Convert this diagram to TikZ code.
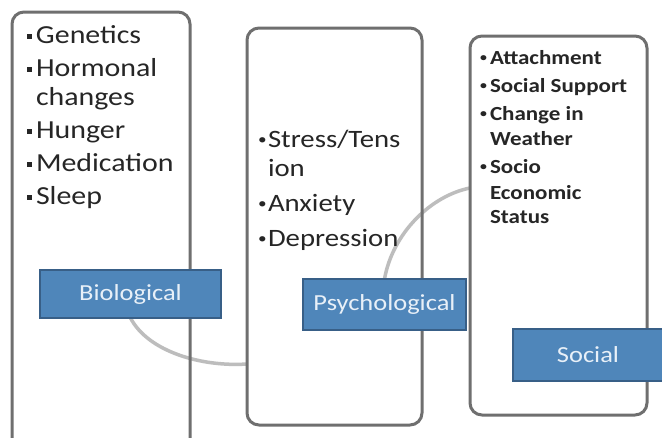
\documentclass[tikz,border=0pt]{standalone}
\usepackage{fontspec}
\setmainfont[FakeStretch=1.15]{Carlito}
\definecolor{panelgray}{HTML}{6F6F6F}
\definecolor{tagblue}{HTML}{4F86BA}
\definecolor{tagedge}{HTML}{385F87}
\definecolor{tagtext}{HTML}{E8F0F8}
\definecolor{linkgray}{HTML}{BDBDBD}
\newcommand{\sqb}{\makebox[9pt][l]{\rule[0.2em]{0.2em}{0.2em}}}
\newcommand{\dotb}{\makebox[9pt][l]{\hspace{-1pt}\raisebox{0.12em}{\scalebox{0.6}{\textbullet}}}}
\newcommand{\ind}{\hspace*{9pt}}
\tikzset{
  panel/.style={draw=panelgray, line width=3pt, rounded corners=12pt},
  tag/.style={fill=tagblue, draw=tagedge, line width=1.2pt, text=tagtext,
    font=\fontsize{23}{26}\selectfont, minimum height=48pt},
  link/.style={draw=linkgray, line width=3.5pt},
  items/.style={align=left, anchor=north west, text=black!85}
}
\begin{document}
\begin{tikzpicture}[x=1pt, y=1pt, yscale=-1, inner sep=0pt, outer sep=0pt]
\useasboundingbox[fill=white] (0,0) rectangle (662,437);
% joins between the three parts
\coordinate (psyin) at (247,364);
\coordinate (socin) at (470,188);
\node[minimum width=181pt, minimum height=48pt] (bio) at (130.5,294) {};
\node[minimum width=163pt, minimum height=51pt] (psy) at (384.5,304.5) {};
\draw[link] (bio.south) .. controls +(18,34) and +(-45,3) .. (psyin);
\draw[link] (psy.north) .. controls +(8,-45) and +(-40,8) .. (socin);
% the three panels
\node[panel, minimum width=178pt, minimum height=440pt] (biobox) at (101,232) {};
\node[panel, minimum width=175pt, minimum height=397pt] (psybox) at (334.5,226.5) {};
\node[panel, minimum width=177pt, minimum height=379pt] (socbox) at (558.5,225.5) {};
% panel texts
\node[items, font=\fontsize{26}{33}\selectfont] (biolist) at (27,26)
  {\sqb Genetics\\ \sqb Hormonal\\[-4pt] \ind changes\\ \sqb Hunger\\
   \sqb Medication\\ \sqb Sleep};
\node[items, font=\fontsize{25}{35}\selectfont] (psylist) at (259,130)
  {\dotb Stress/Tens\\[-6pt] \ind ion\\ \dotb Anxiety\\ \dotb Depression};
\node[items, font=\bfseries\fontsize{20}{28}\selectfont] (soclist) at (481,50)
  {\dotb Attachment\\ \dotb Social Support\\ \dotb Change in\\[-3pt]
   \ind Weather\\ \dotb Socio\\[-2pt] \ind Economic\\[-4pt] \ind Status};
% labels
\node[tag, minimum width=181pt] at (bio) {Biological};
\node[tag, minimum width=163pt, minimum height=51pt] at (psy) {Psychological};
\node[tag, minimum width=150pt, minimum height=52pt] (soc) at (588,355) {Social};
\end{tikzpicture}
\end{document}
